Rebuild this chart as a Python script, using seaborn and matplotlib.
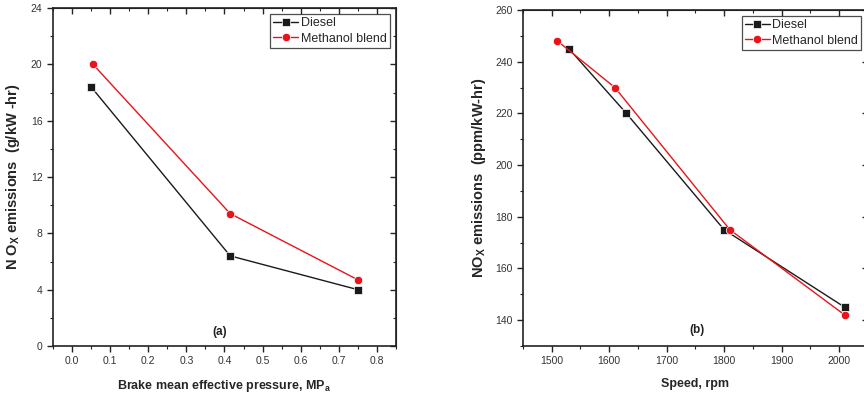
import matplotlib
matplotlib.use("Agg")
import matplotlib.pyplot as plt
import seaborn as sns
import pandas as pd
from matplotlib.ticker import MultipleLocator

# Panel (a)
bmep_diesel = [0.05, 0.415, 0.75]
nox_a_diesel = [18.4, 6.4, 4.0]
bmep_meth = [0.055, 0.415, 0.75]
nox_a_meth = [20.0, 9.4, 4.7]

# Panel (b)
speed_diesel = [1530, 1630, 1800, 2010]
nox_b_diesel = [245, 220, 175, 145]
speed_meth = [1510, 1610, 1810, 2010]
nox_b_meth = [248, 230, 175, 142]

series_names = ["Diesel", "Methanol blend"]

sns.set_style("ticks")
plt.rcParams['font.family'] = ['Liberation Sans', 'DejaVu Sans']
plt.rcParams['mathtext.fontset'] = 'custom'
plt.rcParams['mathtext.rm'] = 'Liberation Sans'
plt.rcParams['mathtext.bf'] = 'Liberation Sans:bold'

df_a = pd.DataFrame({
    "x": bmep_diesel + bmep_meth,
    "y": nox_a_diesel + nox_a_meth,
    "series": [series_names[0]] * len(bmep_diesel) + [series_names[1]] * len(bmep_meth),
})
df_b = pd.DataFrame({
    "x": speed_diesel + speed_meth,
    "y": nox_b_diesel + nox_b_meth,
    "series": [series_names[0]] * len(speed_diesel) + [series_names[1]] * len(speed_meth),
})

palette = {"Diesel": "#1a1a1a", "Methanol blend": "#e8141b"}
markers = {"Diesel": "s", "Methanol blend": "o"}

fig = plt.figure(figsize=(8.64, 4.0), dpi=100)
ax1 = fig.add_axes([0.0613, 0.135, 0.397, 0.845])
ax2 = fig.add_axes([0.6053, 0.135, 0.399, 0.84])

for ax, df in [(ax1, df_a), (ax2, df_b)]:
    sns.lineplot(data=df, x="x", y="y", hue="series", style="series",
                 palette=palette, markers=markers, dashes=False, sort=False,
                 markersize=6, linewidth=1.0, markeredgewidth=0.5, ax=ax)
    for s in ax.spines.values():
        s.set_linewidth(1.2)
        s.set_color("#222222")
    ax.tick_params(which="both", direction="out", labelsize=7.5, colors="#222222",
                   labelcolor="#333333")
    ax.tick_params(which="major", length=4, width=1)
    ax.tick_params(which="minor", length=2.5, width=0.8)
    leg = ax.legend(loc="upper right", fontsize=9, frameon=True, fancybox=False,
                    edgecolor="#222222", borderpad=0.25, labelspacing=0.25,
                    handlelength=2.0, handletextpad=0.2, borderaxespad=0.5)
    leg.get_frame().set_linewidth(0.9)
    # mirrored ticks on top / right pointing inward
    sx = ax.secondary_xaxis("top")
    sy = ax.secondary_yaxis("right")
    for sa in (sx, sy):
        sa.tick_params(which="both", direction="in", labelbottom=False, labeltop=False,
                       labelleft=False, labelright=False)
        sa.tick_params(which="major", length=4, width=1)
        sa.tick_params(which="minor", length=2.5, width=0.8)
    ax._sx, ax._sy = sx, sy

ax1.set_xlim(-0.05, 0.85)
ax1.set_ylim(0, 24)
ax1.xaxis.set_major_locator(MultipleLocator(0.1))
ax1.xaxis.set_minor_locator(MultipleLocator(0.05))
ax1.yaxis.set_major_locator(MultipleLocator(4))
ax1.yaxis.set_minor_locator(MultipleLocator(2))
ax1._sx.xaxis.set_major_locator(MultipleLocator(0.1))
ax1._sx.xaxis.set_minor_locator(MultipleLocator(0.05))
ax1._sx.set_xticklabels([])
ax1._sy.yaxis.set_major_locator(MultipleLocator(4))
ax1._sy.yaxis.set_minor_locator(MultipleLocator(2))
ax1._sy.set_yticklabels([])
ax1.set_xticks([0.0, 0.1, 0.2, 0.3, 0.4, 0.5, 0.6, 0.7, 0.8])
ax1.set_xticklabels(["0.0", "0.1", "0.2", "0.3", "0.4", "0.5", "0.6", "0.7", "0.8"])
ax1.set_xlabel(r"Brake mean effective pressure, MP$_\mathbf{a}$", fontsize=9,
               fontweight="bold", labelpad=8)
ax1.set_ylabel(r"N O$_\mathbf{X}$ emissions  (g/kW -hr)", fontsize=10.5,
               fontweight="bold", labelpad=6)
ax1.text(0.487, 0.04, "(a)", transform=ax1.transAxes, ha="center", va="center",
         fontsize=8.5, fontweight="bold", color="#222222")

ax2.set_xlim(1450, 2050)
ax2.set_ylim(130, 260)
ax2.xaxis.set_major_locator(MultipleLocator(100))
ax2.xaxis.set_minor_locator(MultipleLocator(50))
ax2.yaxis.set_major_locator(MultipleLocator(20))
ax2.yaxis.set_minor_locator(MultipleLocator(10))
ax2._sx.xaxis.set_major_locator(MultipleLocator(100))
ax2._sx.xaxis.set_minor_locator(MultipleLocator(50))
ax2._sx.set_xticklabels([])
ax2._sy.yaxis.set_major_locator(MultipleLocator(20))
ax2._sy.yaxis.set_minor_locator(MultipleLocator(10))
ax2._sy.set_yticklabels([])
ax2.set_xticks([1500, 1600, 1700, 1800, 1900, 2000])
ax2.set_yticks([140, 160, 180, 200, 220, 240, 260])
ax2.set_xlabel("Speed, rpm", fontsize=9, fontweight="bold", labelpad=8)
ax2.set_ylabel(r"NO$_\mathbf{X}$ emissions  (ppm/kW-hr)", fontsize=10.5,
               fontweight="bold", labelpad=5)
ax2.text(0.505, 0.048, "(b)", transform=ax2.transAxes, ha="center", va="center",
         fontsize=8.5, fontweight="bold", color="#222222")

fig.savefig("out.png", dpi=100, facecolor="white")
